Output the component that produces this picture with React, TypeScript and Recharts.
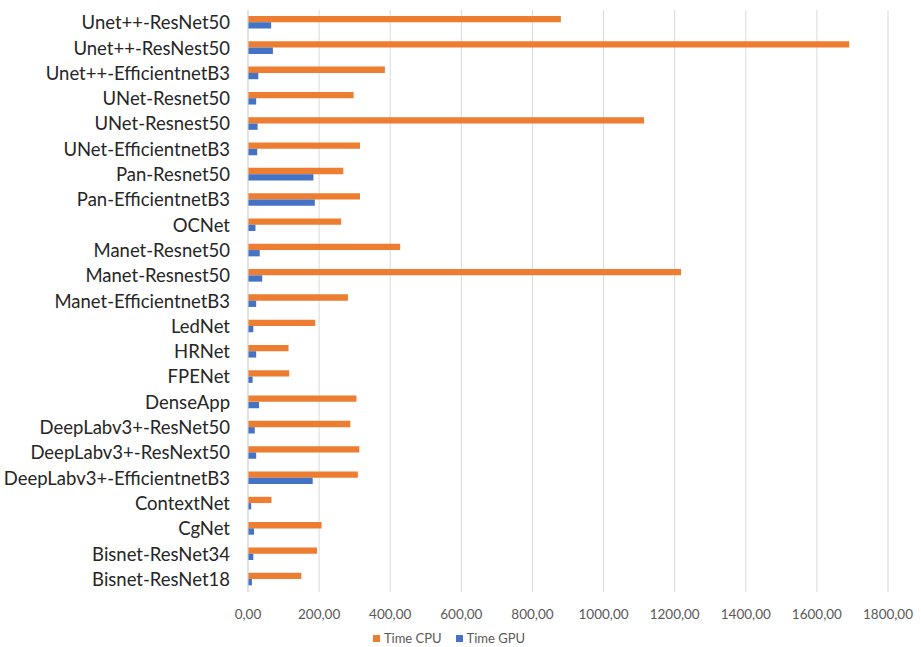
import React from "react";
import { BarChart, Bar, XAxis, YAxis, CartesianGrid, Legend } from "recharts";

const categories = [
  "Unet++-ResNet50",
  "Unet++-ResNest50",
  "Unet++-EfficientnetB3",
  "UNet-Resnet50",
  "UNet-Resnest50",
  "UNet-EfficientnetB3",
  "Pan-Resnet50",
  "Pan-EfficientnetB3",
  "OCNet",
  "Manet-Resnet50",
  "Manet-Resnest50",
  "Manet-EfficientnetB3",
  "LedNet",
  "HRNet",
  "FPENet",
  "DenseApp",
  "DeepLabv3+-ResNet50",
  "DeepLabv3+-ResNext50",
  "DeepLabv3+-EfficientnetB3",
  "ContextNet",
  "CgNet",
  "Bisnet-ResNet34",
  "Bisnet-ResNet18",
];

const cpuTimes = [
  880, 1691, 385, 297, 1114, 315, 268, 315, 262, 428, 1218, 281, 189, 114, 116,
  305, 288, 313, 309, 66, 207, 194, 150,
];

const gpuTimes = [
  65, 70, 29, 23, 27, 26, 184, 188, 21, 33, 40, 23, 15, 23, 13, 31, 19, 23, 182,
  9, 17, 15, 11,
];

const xTicks = [0, 200, 400, 600, 800, 1000, 1200, 1400, 1600, 1800];

const seriesNames = ["Time CPU", "Time GPU"];
const seriesColors = ["#ED7D31", "#4472C4"];

const data = categories.map((name, i) => ({
  name,
  cpu: cpuTimes[i],
  gpu: gpuTimes[i],
}));

const fmt = (v: number) => v.toFixed(2).replace(".", ",");

const LegendContent = () => (
  <div
    style={{
      display: "flex",
      justifyContent: "center",
      alignItems: "center",
      fontFamily: "Lato, sans-serif",
      fontSize: 13,
      color: "#595959",
      paddingTop: 8,
      paddingLeft: 10,
    }}
  >
    {seriesNames.map((n, i) => (
      <div
        key={n}
        style={{ display: "flex", alignItems: "center", marginRight: i === 0 ? 14 : 0 }}
      >
        <span
          style={{
            display: "inline-block",
            width: 7,
            height: 7,
            background: seriesColors[i],
            marginRight: 4,
          }}
        />
        <span>{n}</span>
      </div>
    ))}
  </div>
);

export default function App() {
  return (
    <div style={{ position: "absolute", left: 0, top: 0, background: "#fff" }}>
      <BarChart
        width={921}
        height={647}
        data={data}
        layout="vertical"
        margin={{ top: 10, right: 33, left: 0, bottom: 0 }}
        barSize={6.3}
        barGap={0.01}
      >
        <CartesianGrid horizontal={false} stroke="#D9D9D9" />
        <XAxis
          type="number"
          domain={[0, 1800]}
          ticks={xTicks}
          tickFormatter={fmt}
          axisLine={false}
          tickLine={false}
          tickMargin={11}
          height={30}
          interval={0}
          tick={{ fontFamily: "Lato, sans-serif", fontSize: 13.5, fill: "#595959" }}
        />
        <YAxis
          type="category"
          dataKey="name"
          width={248}
          axisLine={{ stroke: "#D9D9D9" }}
          tickLine={false}
          tickMargin={12}
          interval={0}
          tick={{ fontFamily: "Lato, sans-serif", fontSize: 18.5, fill: "#262626" }}
        />
        <Legend verticalAlign="bottom" height={25} content={<LegendContent />} />
        <Bar dataKey="cpu" name={seriesNames[0]} fill={seriesColors[0]} isAnimationActive={false} />
        <Bar dataKey="gpu" name={seriesNames[1]} fill={seriesColors[1]} isAnimationActive={false} />
      </BarChart>
    </div>
  );
}
